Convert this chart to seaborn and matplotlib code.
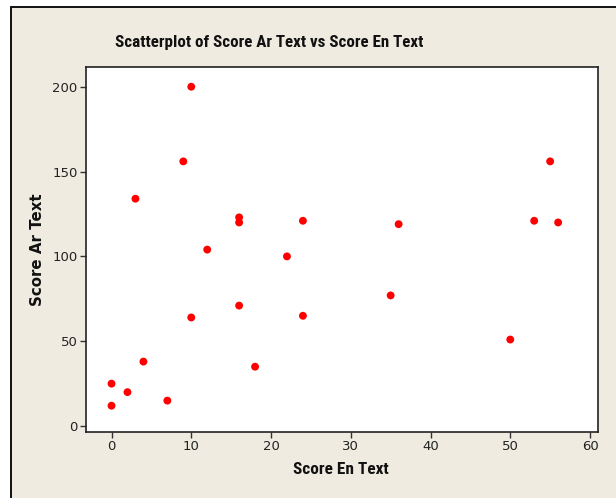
import matplotlib
matplotlib.use("Agg")
import matplotlib.pyplot as plt
import matplotlib.patches as mpatches
from matplotlib import font_manager
import seaborn as sns
import pandas as pd

score_en = [0, 0, 2, 4, 7, 3, 9, 10, 10, 12, 16, 16, 16, 18, 22, 24, 24, 35, 36, 50, 53, 55, 56]
score_ar = [25, 12, 20, 38, 15, 134, 156, 200, 64, 104, 123, 120, 71, 35, 100, 121, 65, 77, 119, 51, 121, 156, 120]
x_ticks = [0, 10, 20, 30, 40, 50, 60]
y_ticks = [0, 50, 100, 150, 200]

df = pd.DataFrame({"Score En Text": score_en, "Score Ar Text": score_ar})

sns.set_style("white")
plt.rcParams["font.family"] = ["DejaVu Sans"]

names = {f.name for f in font_manager.fontManager.ttflist}
narrow = "DejaVu Sans"
for cand in ["Roboto Condensed", "Liberation Sans Narrow", "Open Sans Condensed",
             "Noto Sans Condensed", "Roboto", "Liberation Sans"]:
    if cand in names:
        narrow = cand
        break

W, H = 616, 498
fig = plt.figure(figsize=(W / 100, H / 100), dpi=100)
fig.patch.set_facecolor("white")

bg = "#EFEBE0"
fig.patches.append(mpatches.Rectangle((11 / W, 0), 1 - 11 / W, 1 - 7 / H,
                                      transform=fig.transFigure, facecolor=bg,
                                      edgecolor="none", zorder=-2))
fig.add_artist(plt.Line2D([11 / W, 11 / W], [0, 1 - 7 / H], transform=fig.transFigure,
                          color="#111111", lw=1.4))
fig.add_artist(plt.Line2D([11 / W, 1], [1 - 7 / H, 1 - 7 / H], transform=fig.transFigure,
                          color="#111111", lw=1.4))

left, right, top, bottom = 86, 598, 66.7, 431.5
ax = fig.add_axes([left / W, 1 - bottom / H, (right - left) / W, (bottom - top) / H])
ax.set_facecolor("white")

sns.scatterplot(data=df, x="Score En Text", y="Score Ar Text", ax=ax,
                color="#FF0000", s=32, edgecolor="none", marker="o")

ax.set_xlim(-3.2, 61.0)
ax.set_ylim(-3.2, 211.8)
ax.set_xticks(x_ticks)
ax.set_yticks(y_ticks)
ax.tick_params(axis="both", direction="out", length=4, width=1, color="#333333",
               labelsize=9.5, labelcolor="#222222", pad=2,
               bottom=True, left=True)
for s in ax.spines.values():
    s.set_color("#222222")
    s.set_linewidth(1.2)

ax.set_xlabel("")
ax.set_ylabel("")
title = fig.text(269 / W, 1 - 43 / H, "Scatterplot of Score Ar Text vs Score En Text",
                 ha="center", va="center", fontsize=12, fontweight="bold",
                 family=narrow, color="#111111")
xl = fig.text(341 / W, 1 - 469 / H, "Score En Text", ha="center", va="center",
              fontsize=10, fontweight="bold", family=narrow, color="#111111")
yl = fig.text(37 / W, 1 - 250 / H, "Score Ar Text", ha="center", va="center",
              rotation=90, fontsize=10, fontweight="bold", family="DejaVu Sans",
              color="#111111")


def fit(t, target, use_height=False):
    for _ in range(3):
        fig.canvas.draw()
        bb = t.get_window_extent()
        cur = bb.height if use_height else bb.width
        t.set_fontsize(t.get_fontsize() * target / cur)


fit(title, 308)
fit(xl, 95)
fit(yl, 112, use_height=True)

fig.savefig("out.png", dpi=100)
